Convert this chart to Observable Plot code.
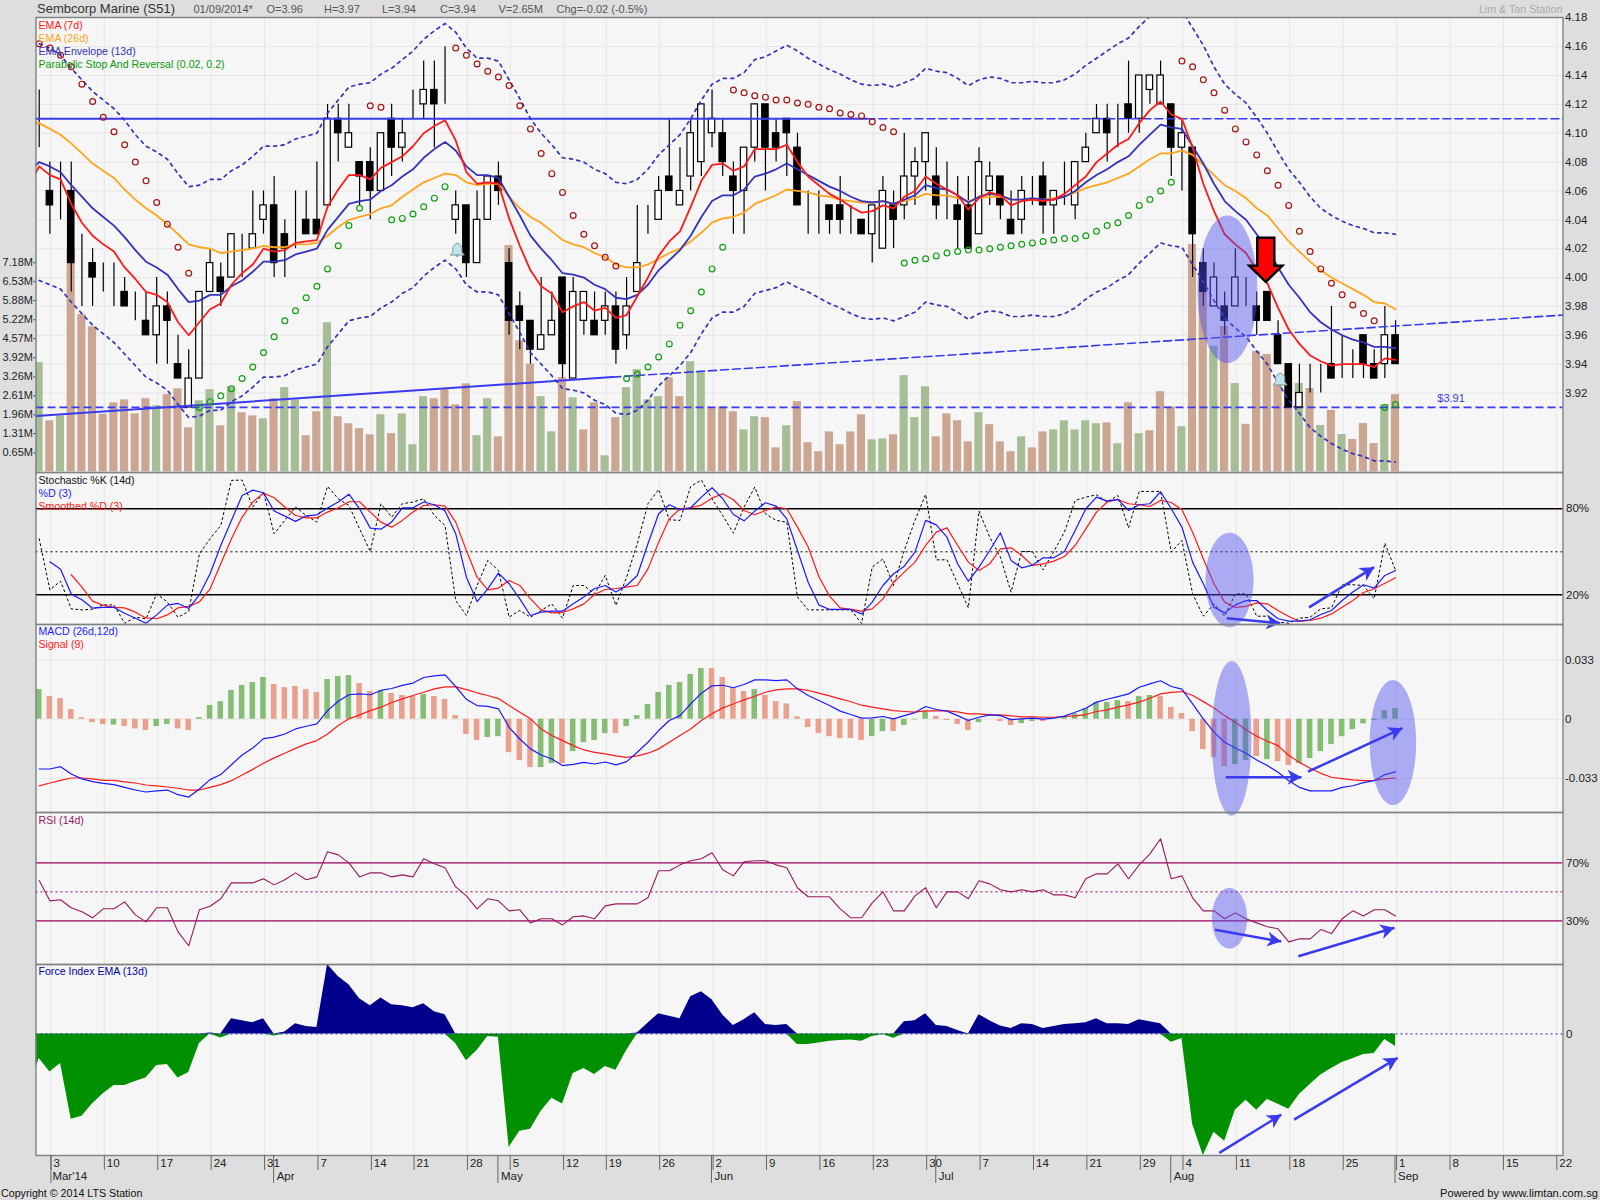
<!DOCTYPE html>
<html><head><meta charset="utf-8">
<script src="https://cdn.jsdelivr.net/npm/d3@7"></script>
<script src="https://cdn.jsdelivr.net/npm/@observablehq/plot@0.6"></script>
<style>
html,body{margin:0;padding:0;background:#dedede;overflow:hidden}
#chart{position:relative;width:1600px;height:1200px;font-family:"Liberation Sans",Arial,sans-serif;overflow:hidden}
.h{position:absolute;white-space:nowrap;color:#555;font-size:11px;top:3px}
.bg{position:absolute;background:#f6f6f6;left:35.5px;width:1527px}
svg{position:absolute;left:0}
</style></head><body><div id="chart"></div>
<script>
const opens=[4.11,4.06,4.06,4.06,4.00,4.01,4.00,4.00,3.99,3.97,3.97,3.96,3.98,3.94,3.91,3.93,3.99,4.00,4.00,4.03,4.02,4.04,4.05,4.03,4.04,4.04,4.04,4.05,4.11,4.09,4.08,4.08,4.06,4.11,4.09,4.11,4.12,4.13,4.12,4.04,4.05,4.01,4.04,4.07,4.01,3.98,3.97,3.95,3.96,4.00,3.93,3.97,3.97,3.97,3.98,3.96,3.99,4.03,4.04,4.07,4.05,4.07,4.08,4.10,4.10,4.07,4.06,4.09,4.12,4.10,4.11,4.09,4.04,4.04,4.05,4.05,4.04,4.04,4.03,4.02,4.05,4.05,4.07,4.08,4.07,4.05,4.05,4.05,4.03,4.06,4.07,4.04,4.04,4.06,4.07,4.05,4.07,4.05,4.08,4.10,4.11,4.11,4.12,4.11,4.13,4.12,4.12,4.09,4.09,4.01,3.98,3.98,3.98,4.00,3.98,3.99,3.96,3.94,3.91,3.92,3.93,3.94,3.94,3.94,3.96,3.94,3.94,3.96];
const highs=[4.13,4.08,4.08,4.08,4.03,4.02,4.01,4.01,4.00,3.99,3.99,4.00,3.99,3.96,3.95,3.99,4.02,4.01,4.03,4.03,4.06,4.06,4.07,4.04,4.06,4.06,4.08,4.12,4.12,4.12,4.08,4.09,4.10,4.12,4.11,4.13,4.15,4.15,4.16,4.06,4.05,4.06,4.07,4.08,4.02,3.99,3.97,4.00,3.99,4.00,4.00,3.99,3.99,3.99,3.99,4.00,4.05,4.05,4.07,4.11,4.09,4.11,4.12,4.13,4.11,4.08,4.09,4.12,4.12,4.11,4.11,4.10,4.06,4.06,4.05,4.07,4.05,4.04,4.05,4.07,4.06,4.10,4.09,4.10,4.09,4.08,4.07,4.07,4.09,4.08,4.07,4.06,4.07,4.07,4.08,4.06,4.08,4.08,4.10,4.12,4.12,4.12,4.15,4.14,4.14,4.15,4.12,4.11,4.09,4.02,4.01,3.99,4.02,4.00,3.99,3.99,3.97,3.94,3.94,3.94,3.94,3.98,3.96,3.95,3.96,3.95,3.98,3.97];
const lows=[4.09,4.03,4.04,3.99,3.98,3.98,3.99,3.98,3.98,3.97,3.96,3.94,3.94,3.93,3.91,3.93,3.99,3.98,4.00,4.00,4.02,4.03,4.00,4.00,4.02,4.03,4.03,4.05,4.08,4.09,4.05,4.04,4.06,4.07,4.08,4.11,4.11,4.09,4.12,4.03,4.00,4.01,4.04,4.05,3.96,3.95,3.94,3.95,3.96,3.93,3.93,3.96,3.96,3.96,3.94,3.95,3.99,4.03,4.04,4.06,4.05,4.06,4.07,4.09,4.07,4.03,4.03,4.08,4.06,4.08,4.07,4.05,4.03,4.03,4.03,4.03,4.03,4.03,4.01,4.02,4.02,4.04,4.05,4.06,4.04,4.04,4.02,4.02,4.03,4.05,4.04,4.03,4.03,4.05,4.03,4.03,4.05,4.04,4.08,4.10,4.08,4.09,4.10,4.10,4.12,4.12,4.07,4.06,4.00,3.98,3.98,3.96,3.98,3.98,3.96,3.97,3.94,3.91,3.91,3.92,3.92,3.93,3.93,3.93,3.93,3.93,3.93,3.94];
const closes=[4.11,4.05,4.06,4.01,4.00,4.00,4.00,4.00,3.98,3.97,3.96,3.98,3.97,3.93,3.93,3.99,4.01,3.99,4.03,4.03,4.03,4.05,4.01,4.02,4.04,4.03,4.03,4.11,4.10,4.10,4.07,4.06,4.10,4.09,4.10,4.11,4.13,4.12,4.12,4.05,4.01,4.04,4.07,4.06,3.97,3.97,3.95,3.96,3.97,3.94,3.99,3.99,3.96,3.98,3.95,3.98,4.01,4.03,4.06,4.06,4.06,4.10,4.12,4.11,4.08,4.06,4.09,4.12,4.09,4.09,4.10,4.05,4.04,4.04,4.04,4.04,4.04,4.03,4.05,4.06,4.04,4.07,4.08,4.10,4.05,4.05,4.04,4.02,4.08,4.07,4.05,4.03,4.06,4.06,4.05,4.06,4.07,4.08,4.09,4.11,4.10,4.11,4.11,4.14,4.14,4.14,4.09,4.10,4.03,3.99,4.00,3.97,4.00,4.00,3.97,3.97,3.94,3.91,3.92,3.92,3.93,3.93,3.94,3.94,3.94,3.93,3.96,3.94];
const volumes=[3.75,1.75,1.92,7.65,5.40,4.98,1.98,2.37,2.47,1.99,2.51,2.27,2.65,2.85,1.51,2.44,2.82,1.58,2.92,2.03,1.92,1.82,2.51,2.89,2.47,1.24,2.06,5.12,1.89,1.65,1.48,1.27,1.96,1.31,1.99,0.93,2.58,2.51,2.82,2.30,3.02,1.24,2.51,1.20,7.77,4.50,3.70,2.58,1.37,3.23,2.54,1.44,2.37,0.55,1.86,2.89,3.51,2.47,2.58,3.23,2.58,3.78,3.40,2.17,2.23,2.06,1.44,1.89,1.86,0.82,1.58,2.41,1.00,0.69,1.37,0.93,1.37,1.96,1.10,1.13,1.27,3.30,1.86,2.92,1.20,1.99,1.75,1.03,2.03,1.62,1.03,0.69,1.20,0.82,1.37,1.44,1.75,1.44,1.75,1.65,1.68,0.96,2.37,1.31,1.41,2.75,2.23,1.55,7.81,6.46,4.31,4.99,3.03,1.63,4.13,4.03,3.03,3.21,3.03,2.86,1.59,2.11,1.28,1.11,1.66,0.97,2.31,2.65];
const volumeFlags="GBGBBBBBBB"+"BGBBBGGBGB"+"BGBGGBBGBB"+"BBGBGGGBBB"+"BGGBBBBGGB"+"GBBGBGGGGB"+"BGGBBBGGBB"+"GBBBBBBBGG"+"BGGGBBBBGB"+"BBGBBGGGGG"+"BGBGBBBGBB"+"GBGBBBBBGB"+"GBGBBBGB";
const emaFast=[4.077,4.071,4.068,4.051,4.038,4.029,4.023,4.018,4.007,3.999,3.990,3.988,3.983,3.969,3.960,3.969,3.978,3.982,3.995,4.003,4.009,4.020,4.018,4.019,4.024,4.025,4.026,4.049,4.061,4.071,4.071,4.068,4.076,4.080,4.084,4.091,4.100,4.105,4.109,4.095,4.073,4.065,4.066,4.065,4.041,4.022,4.005,3.994,3.989,3.976,3.980,3.983,3.977,3.979,3.972,3.974,3.987,4.000,4.015,4.025,4.032,4.049,4.067,4.078,4.079,4.074,4.077,4.089,4.089,4.089,4.092,4.080,4.070,4.064,4.058,4.054,4.049,4.045,4.046,4.050,4.048,4.056,4.060,4.070,4.065,4.061,4.057,4.047,4.055,4.059,4.057,4.050,4.053,4.054,4.053,4.054,4.058,4.064,4.070,4.080,4.086,4.092,4.096,4.107,4.116,4.122,4.113,4.110,4.090,4.065,4.046,4.030,4.023,4.017,4.005,3.996,3.979,3.964,3.954,3.946,3.942,3.939,3.940,3.940,3.940,3.938,3.944,3.943];
const emaSlow=[4.107,4.103,4.099,4.093,4.086,4.079,4.074,4.069,4.061,4.054,4.048,4.043,4.037,4.030,4.023,4.021,4.020,4.017,4.018,4.019,4.020,4.022,4.021,4.021,4.023,4.023,4.024,4.029,4.035,4.040,4.042,4.044,4.048,4.050,4.056,4.061,4.066,4.069,4.072,4.071,4.066,4.064,4.065,4.065,4.056,4.048,4.042,4.038,4.032,4.026,4.023,4.021,4.017,4.014,4.009,4.007,4.007,4.009,4.013,4.017,4.020,4.025,4.031,4.038,4.041,4.042,4.045,4.051,4.054,4.057,4.061,4.060,4.059,4.057,4.056,4.054,4.053,4.052,4.052,4.053,4.051,4.053,4.055,4.058,4.057,4.057,4.055,4.053,4.055,4.056,4.056,4.054,4.054,4.054,4.054,4.055,4.056,4.059,4.062,4.064,4.066,4.069,4.072,4.077,4.082,4.086,4.086,4.088,4.085,4.078,4.071,4.064,4.060,4.055,4.048,4.043,4.034,4.025,4.018,4.011,4.005,4.000,3.996,3.992,3.988,3.983,3.982,3.978];
const envMid=[4.080,4.077,4.073,4.064,4.056,4.048,4.042,4.036,4.028,4.019,4.011,4.007,4.002,3.992,3.983,3.984,3.988,3.988,3.994,3.998,4.004,4.011,4.011,4.012,4.016,4.018,4.020,4.033,4.042,4.051,4.053,4.054,4.060,4.064,4.070,4.075,4.083,4.089,4.094,4.088,4.077,4.071,4.071,4.069,4.056,4.043,4.029,4.020,4.012,4.003,4.002,4.000,3.995,3.992,3.986,3.985,3.988,3.995,4.005,4.012,4.019,4.029,4.042,4.053,4.057,4.057,4.061,4.070,4.072,4.075,4.079,4.075,4.071,4.067,4.063,4.060,4.056,4.053,4.052,4.053,4.051,4.054,4.057,4.064,4.062,4.061,4.057,4.052,4.056,4.058,4.057,4.054,4.054,4.055,4.054,4.054,4.056,4.060,4.066,4.071,4.075,4.080,4.084,4.092,4.099,4.106,4.104,4.103,4.091,4.079,4.065,4.053,4.046,4.040,4.030,4.020,4.007,3.995,3.986,3.976,3.969,3.964,3.960,3.957,3.955,3.952,3.952,3.951];
const envUpper=[4.162,4.159,4.154,4.145,4.137,4.129,4.123,4.117,4.109,4.099,4.091,4.087,4.082,4.072,4.063,4.064,4.068,4.068,4.074,4.078,4.084,4.091,4.091,4.092,4.096,4.098,4.100,4.114,4.123,4.132,4.134,4.135,4.141,4.145,4.151,4.157,4.165,4.171,4.176,4.170,4.159,4.152,4.152,4.150,4.137,4.124,4.110,4.100,4.092,4.083,4.082,4.080,4.075,4.072,4.066,4.065,4.068,4.075,4.085,4.092,4.099,4.110,4.123,4.134,4.138,4.138,4.142,4.151,4.153,4.157,4.161,4.157,4.152,4.148,4.144,4.141,4.137,4.134,4.133,4.134,4.132,4.135,4.138,4.145,4.143,4.142,4.138,4.133,4.137,4.139,4.138,4.135,4.135,4.136,4.135,4.135,4.137,4.141,4.147,4.152,4.157,4.162,4.166,4.174,4.181,4.188,4.186,4.185,4.173,4.161,4.146,4.134,4.127,4.121,4.111,4.100,4.087,4.075,4.066,4.056,4.048,4.043,4.039,4.036,4.034,4.031,4.031,4.030];
const envLower=[3.998,3.995,3.992,3.983,3.975,3.967,3.961,3.955,3.947,3.939,3.931,3.927,3.922,3.912,3.903,3.904,3.908,3.908,3.914,3.918,3.924,3.931,3.931,3.932,3.936,3.938,3.940,3.952,3.961,3.970,3.972,3.973,3.979,3.983,3.989,3.993,4.001,4.007,4.012,4.006,3.995,3.990,3.990,3.988,3.975,3.962,3.948,3.940,3.932,3.923,3.922,3.920,3.915,3.912,3.906,3.905,3.908,3.915,3.925,3.932,3.939,3.948,3.961,3.972,3.976,3.976,3.980,3.989,3.991,3.993,3.997,3.993,3.990,3.986,3.982,3.979,3.975,3.972,3.971,3.972,3.970,3.973,3.976,3.983,3.981,3.980,3.976,3.971,3.975,3.977,3.976,3.973,3.973,3.974,3.973,3.973,3.975,3.979,3.985,3.990,3.993,3.998,4.002,4.010,4.017,4.024,4.022,4.021,4.009,3.997,3.984,3.972,3.965,3.959,3.949,3.940,3.927,3.915,3.906,3.896,3.890,3.885,3.881,3.878,3.876,3.873,3.873,3.872];
const sar=[4.162,4.159,4.154,4.146,4.134,4.122,4.111,4.101,4.092,4.080,4.067,4.052,4.037,4.021,4.003,3.910,3.914,3.918,3.923,3.930,3.938,3.948,3.959,3.970,3.977,3.986,3.994,4.006,4.022,4.036,4.048,4.119,4.118,4.040,4.041,4.044,4.049,4.055,4.063,4.159,4.154,4.148,4.143,4.139,4.133,4.119,4.103,4.086,4.072,4.059,4.043,4.030,4.022,4.014,4.008,3.930,3.933,3.938,3.945,3.954,3.967,3.977,3.990,4.006,4.021,4.130,4.128,4.126,4.125,4.123,4.123,4.121,4.120,4.118,4.117,4.114,4.113,4.112,4.108,4.104,4.101,4.010,4.012,4.013,4.015,4.017,4.018,4.019,4.019,4.020,4.021,4.022,4.023,4.024,4.025,4.026,4.027,4.027,4.029,4.032,4.036,4.038,4.043,4.050,4.054,4.060,4.066,4.150,4.146,4.137,4.128,4.116,4.103,4.094,4.085,4.074,4.064,4.050,4.032,4.018,4.006,3.996,3.988,3.981,3.975,3.970,3.910,3.912];
const stochK=[59.1,23.5,29.5,10.2,9.5,10.0,13.0,13.0,0.2,4.4,3.3,20.7,14.9,4.4,8.4,48.6,59.1,68.4,99.8,100,81.2,91.6,62.6,71.9,81.2,75.3,70.7,95.6,87.0,82.3,66.0,50.2,83.5,74.2,83.5,84.7,87.0,75.3,68.4,16.0,5.6,26.5,44.0,37.0,4.4,9.1,4.4,9.1,13.7,3.7,26.5,26.5,20.7,33.5,12.6,32.3,55.6,83.5,93.5,72.3,71.9,95.6,100,87.0,75.3,63.0,81.2,95.1,76.5,71.9,70.7,18.4,9.5,9.5,9.5,9.5,9.5,0,39.3,45.1,26.5,50.9,71.9,90.0,44.4,44.4,27.7,10.9,78.4,60.2,46.3,21.9,50.2,50.2,37.4,50.2,63.7,85.8,88.1,89.8,84.7,89.3,66.7,92.1,92.1,92.1,49.8,57.9,20.7,5.1,13.7,5.1,20.7,20.7,5.1,5.1,0.9,0.2,3.7,4.4,10.2,10.9,27.0,27.0,26.5,17.2,56.0,37.0];
const stochD=[null,43.0,37.9,20.5,16.5,10.7,11.2,11.2,7.2,3.7,0.2,6.0,12.8,14.0,10.5,20.0,34.7,54.4,71.9,89.3,93.0,91.2,78.4,74.9,71.2,75.1,75.8,80.5,84.7,90.2,80.0,66.5,65.8,70.7,80.7,80.7,84.7,82.8,78.4,62.6,32.3,15.3,24.2,35.1,27.7,17.2,5.6,7.9,8.6,8.6,13.7,18.4,24.4,26.5,21.9,26.5,33.5,55.6,76.5,82.8,79.3,80.7,88.1,94.7,87.0,76.0,71.6,78.4,84.2,81.9,73.0,50.9,28.8,13.0,9.8,9.8,9.8,6.7,14.9,26.5,34.7,40.0,49.8,71.9,68.8,60.2,41.6,29.5,39.3,50.9,63.3,44.0,38.8,40.7,45.8,45.8,50.2,64.9,80.0,88.1,85.3,86.5,78.8,82.8,83.5,91.9,80.0,67.2,42.8,27.7,11.4,7.4,13.0,16.0,16.0,9.1,3.3,1.6,1.6,2.6,6.3,9.1,16.0,21.9,27.0,24.7,33.5,37.0];
const stochSlow=[null,null,null,34.0,25.3,15.6,12.6,11.2,10.9,7.9,3.9,3.3,6.0,10.9,11.9,15.1,24.2,41.6,59.1,74.2,84.7,90.9,87.7,81.2,75.3,73.7,73.7,77.7,80.7,84.9,84.9,77.7,70.7,67.2,71.9,77.7,82.3,82.8,81.9,70.7,50.9,32.3,23.5,24.7,30.0,26.5,17.2,9.5,7.4,7.7,10.2,13.7,20.2,23.7,24.4,25.3,26.5,38.1,56.7,73.0,80.0,80.7,82.6,87.4,90.5,86.3,78.8,75.8,78.8,81.2,80.0,67.2,53.3,32.8,19.1,10.9,9.8,8.6,10.2,17.2,28.8,35.8,42.8,54.4,63.7,66.7,54.4,42.8,37.0,41.6,52.1,52.8,47.4,40.5,41.6,43.5,46.7,54.4,66.0,77.7,84.7,86.5,83.5,82.8,81.6,85.8,84.4,79.3,63.7,45.1,27.7,14.9,11.2,11.9,14.4,13.7,9.1,4.9,1.6,2.1,3.7,6.7,11.4,16.0,21.6,24.2,28.1,31.9];
const macd=[-27.7,-27.7,-26.4,-30.5,-33.2,-34.7,-35.7,-36.4,-37.9,-39.4,-40.5,-39.9,-39.4,-42.0,-43.3,-38.8,-33.6,-30.8,-25.3,-19.9,-16.0,-10.8,-10.0,-8.2,-5.4,-3.9,-2.6,4.8,10.0,13.6,14.1,13.6,16.0,17.1,18.8,20.1,23.2,24.1,24.7,18.2,11.1,7.6,7.1,5.8,-4.5,-11.0,-16.5,-19.9,-22.1,-25.8,-25.1,-24.0,-24.9,-23.8,-25.4,-23.6,-18.4,-12.8,-6.3,-0.7,2.0,8.5,14.5,18.6,18.9,17.5,19.3,21.9,21.9,21.5,21.9,16.9,13.2,10.4,7.6,4.5,2.6,0.6,0.7,1.5,0.2,2.0,3.7,7.1,5.4,4.5,2.0,-0.7,1.1,2.4,2.0,-0.2,0.2,0.6,0,0.6,1.7,3.9,6.1,9.5,11.1,12.6,14.1,17.8,19.7,21.4,18.2,16.7,8.5,0.2,-7.2,-12.8,-16.0,-18.9,-22.7,-25.8,-29.5,-34.2,-37.9,-39.9,-39.9,-39.9,-37.9,-37.0,-35.3,-34.2,-30.8,-29.3];
const signal=[-37.1,-35.5,-34.0,-32.7,-32.7,-33.2,-34.0,-34.0,-34.9,-35.5,-36.6,-37.1,-37.7,-38.4,-39.4,-39.4,-37.9,-36.4,-34.2,-31.0,-27.9,-24.5,-21.5,-18.9,-16.2,-13.7,-11.9,-8.2,-3.5,0.2,2.4,4.8,6.7,9.3,11.3,13.2,15.0,16.9,18.0,18.0,16.5,14.7,13.2,11.5,7.6,3.9,0.2,-5.4,-9.1,-11.9,-14.7,-17.1,-18.4,-19.3,-20.4,-21.2,-20.4,-18.9,-16.5,-12.8,-9.1,-5.4,-0.7,3.0,6.3,8.5,10.8,12.8,15.0,16.3,16.9,16.9,16.0,14.5,13.0,11.3,9.7,7.8,6.7,5.8,4.8,4.3,3.9,4.6,4.6,4.6,4.1,3.0,3.0,2.4,2.4,1.9,1.3,1.3,1.1,1.1,1.5,1.9,2.6,4.3,5.2,6.7,8.0,9.5,11.7,14.1,14.9,15.4,13.2,9.8,6.3,2.0,-1.7,-5.8,-9.5,-12.3,-14.7,-20.2,-24.0,-27.3,-30.1,-32.3,-33.1,-33.8,-34.2,-34.0,-33.2,-32.7];
const histogram=[16.5,12.6,11.5,5.4,0.9,-1.9,-3.0,-3.2,-4.1,-5.4,-6.3,-4.1,-3.0,-5.4,-6.3,0.9,7.6,9.8,16.0,18.8,20.4,23.2,19.3,17.6,18.2,16.5,14.9,22.1,23.8,24.3,19.9,15.4,16.0,14.3,13.2,12.6,13.7,12.6,11.0,2.0,-8.5,-11.9,-10.2,-9.7,-18.6,-23.0,-26.9,-26.9,-24.7,-24.7,-18.0,-13.0,-11.9,-8.0,-8.0,-4.1,2.0,8.2,14.9,18.8,20.4,24.9,28.2,28.2,23.2,17.6,15.4,16.5,13.2,9.8,8.5,1.3,-4.6,-8.0,-9.7,-10.8,-10.8,-11.9,-9.7,-6.9,-6.9,-3.5,-0.4,4.5,1.5,-0.7,-3.0,-6.3,-1.9,0,-1.3,-3.5,-2.4,-1.3,-1.3,0,1.5,3.0,5.9,9.3,9.3,10.4,9.8,12.6,13.2,12.6,6.5,3.2,-6.9,-16.9,-21.4,-26.4,-25.3,-23.0,-20.8,-22.5,-23.6,-25.8,-24.7,-21.9,-18.0,-14.1,-9.7,-5.8,-2.6,-0.7,4.8,5.9];
const histFlags="GRRRRRRGRR"+"RGGRRGGGGG"+"GGRRRRRGGG"+"RRGRRRGRRR"+"RRGGRRRGGR"+"GGGGRGGGGG"+"GGGRRRRGRR"+"RRRRRRRRGG"+"RGGGRRRRGG"+"RRGGRRGGGG"+"GGRGGRRRRR"+"RRGGRGRRGG"+"GGGGGGGG";
const rsi=[57.8,43.8,44.5,39.0,36.2,32.1,38.3,38.3,43.1,34.1,29.3,39.0,39.0,22.4,12.8,37.6,40.1,45.2,56.2,56.2,56.2,59.0,54.8,58.3,63.1,58.3,60.3,77.6,75.5,70.0,60.3,63.1,63.1,60.3,61.7,60.3,72.8,69.3,66.6,53.4,47.2,38.3,45.2,43.8,36.9,37.6,28.6,31.4,31.4,27.2,32.8,33.4,31.4,40.3,41.7,41.7,41.7,45.9,64.5,64.5,68.6,71.4,72.8,76.9,65.2,61.0,70.7,71.4,71.4,68.6,66.6,52.8,46.6,46.6,46.6,38.3,32.1,32.1,42.4,50.0,36.9,36.9,47.2,52.8,39.0,50.0,50.0,45.2,57.6,55.5,51.4,50.0,51.4,50.0,51.4,47.9,47.9,45.9,59.0,62.4,62.4,69.3,59.0,68.6,76.2,86.6,59.0,61.0,45.9,36.9,36.9,31.4,35.5,31.4,28.6,25.9,24.5,15.5,17.6,17.6,24.0,21.2,31.4,36.9,33.4,37.6,37.6,33.4];
const force=[-0.74,-1.15,-0.89,-2.57,-2.48,-2.10,-1.80,-1.55,-1.55,-1.43,-1.33,-0.95,-0.92,-1.33,-1.16,-0.29,0.03,-0.12,0.46,0.40,0.34,0.46,-0.06,0.06,0.31,0.22,0.19,2.09,1.73,1.48,1.06,0.85,1.08,0.88,0.85,0.79,0.91,0.67,0.58,-0.29,-0.81,-0.50,-0.08,-0.10,-3.42,-2.93,-2.87,-2.33,-1.94,-2.11,-1.19,-1.04,-1.22,-0.98,-1.09,-0.50,0.03,0.32,0.61,0.53,0.46,1.12,1.27,1.03,0.57,0.25,0.43,0.64,0.28,0.25,0.28,-0.32,-0.32,-0.27,-0.22,-0.20,-0.18,-0.22,-0.08,-0.02,-0.13,0.37,0.40,0.61,0.25,0.22,0.10,-0.02,0.58,0.40,0.24,0.16,0.31,0.28,0.16,0.22,0.28,0.31,0.34,0.46,0.31,0.31,0.28,0.43,0.37,0.31,-0.25,-0.14,-2.72,-3.66,-2.96,-3.23,-2.30,-2.00,-2.30,-1.97,-2.12,-2.27,-1.82,-1.52,-1.24,-1.04,-0.86,-0.75,-0.62,-0.59,-0.17,-0.38];
// values where each line enters the frame at the left edge
const leadIn={emaFast:4.073,envMid:4.078,force:-1.0};

const dayTicks=[[1,"3"],[6,"10"],[11,"17"],[16,"24"],[21,"31"],[26,"7"],[31,"14"],[35,"21"],[40,"28"],[44,"5"],[49,"12"],[53,"19"],[58,"26"],[63,"2"],[68,"9"],[73,"16"],[78,"23"],[83,"30"],[88,"7"],[93,"14"],[98,"21"],[103,"29"],[107,"4"],[112,"11"],[117,"18"],[122,"25"],[127,"1"],[132,"8"],[137,"15"],[142,"22"]];
const monthTicks=[[1,"Mar'14"],[22,"Apr"],[43,"May"],[63,"Jun"],[84,"Jul"],[106,"Aug"],[127,"Sep"]];
const priceTicks=[4.18,4.16,4.14,4.12,4.10,4.08,4.06,4.04,4.02,4.00,3.98,3.96,3.94,3.92];
const volumeTicks=[0.65,1.31,1.96,2.61,3.26,3.92,4.57,5.22,5.88,6.53,7.18];

const FONT='"Liberation Sans",Arial,sans-serif';
const N=opens.length;
[highs,lows,closes,volumes,emaFast,emaSlow,envMid,envUpper,envLower,sar,stochK,stochD,stochSlow,macd,signal,histogram,rsi,force].forEach((a,i)=>{if(a.length!==N)throw new Error("length "+i+" = "+a.length)});
if(volumeFlags.length!==N||histFlags.length!==N)throw new Error("flags");
const idx=d3.range(N);
const xLeft=-0.3, xRight=142.68, xDom=[xLeft,xRight], PXX=10.68;
const root=document.getElementById("chart");
const BLUE="#3a3af0", TINT="#5050f0";

function pane(top,h,yDom,marks){
  const svg=Plot.plot({width:1600,height:h,marginLeft:35.5,marginRight:37.5,marginTop:0,marginBottom:0,
    x:{domain:xDom,axis:null},y:{domain:yDom,axis:null},
    style:{background:"transparent",overflow:"visible",fontFamily:FONT},marks});
  svg.style.top=top+"px"; root.appendChild(svg);
}
function bg(top,h){const d=document.createElement("div");d.className="bg";d.style.top=top+"px";d.style.height=h+"px";root.appendChild(d);}
const vgrid=()=>Plot.ruleX(dayTicks,{x:d=>d[0]+0.1,stroke:"#e6e6e6",strokeWidth:1});
const frame=()=>Plot.frame({stroke:"#7c8484",strokeWidth:1.4});
const seq=(arr,o)=>Plot.line(idx,{x:k=>k,y:k=>arr[k],...o});
const seg=(pts,o)=>Plot.line(pts,{x:d=>d[0],y:d=>d[1],...o});
const label=(t,dy,fill)=>Plot.text([t],{frameAnchor:"top-left",dx:2.5,dy,fill,fontSize:10.6,text:d=>d});
function ellipse(cx,cy,rx,ry){
  const pts=d3.range(61).map(i=>{const a=Math.PI*i/60;return {x:cx-rx*Math.cos(a),y1:cy-ry*Math.sin(a),y2:cy+ry*Math.sin(a)};});
  return Plot.areaY(pts,{x:"x",y1:"y1",y2:"y2",fill:TINT,fillOpacity:0.45});
}
const headSym={draw(c){c.moveTo(0,0);c.lineTo(-7.5,14);c.lineTo(0,10);c.lineTo(7.5,14);c.closePath();}};
function arrow(x1,y1,x2,y2,pxY){
  const rot=Math.atan2((x2-x1)*PXX,(y2-y1)*pxY)*180/Math.PI;
  return [Plot.link([{x1,y1,x2,y2}],{x1:"x1",y1:"y1",x2:"x2",y2:"y2",stroke:BLUE,strokeWidth:2.5}),
          Plot.dot([{x:x2,y:y2}],{x:"x",y:"y",symbol:headSym,rotate:rot,fill:BLUE,stroke:"none"})];
}
const bigArrow={draw(c){c.moveTo(0,0);c.lineTo(16.5,-16);c.lineTo(8.5,-16);c.lineTo(8.5,-44);c.lineTo(-8.5,-44);c.lineTo(-8.5,-16);c.lineTo(-16.5,-16);c.closePath();}};
const bell={draw(c){c.moveTo(-7,5);c.lineTo(-4.5,2);c.lineTo(-4.5,-3);c.lineTo(-2,-6);c.lineTo(0,-7);c.lineTo(2,-6);c.lineTo(4.5,-3);c.lineTo(4.5,2);c.lineTo(7,5);c.closePath();c.moveTo(-1.5,5);c.lineTo(1.5,5);c.lineTo(0,7);c.closePath();}};

// header and footer text
const hdr=[["Sembcorp Marine (S51)",37,"font-size:13px;color:#333;top:1px"],["01/09/2014*",193.5,""],["O=3.96",266.5,""],["H=3.97",324,""],["L=3.94",382,""],["C=3.94",440,""],["V=2.65M",498.5,""],["Chg=-0.02 (-0.5%)",556.5,""]];
hdr.forEach(([t,x,s])=>{const d=document.createElement("div");d.className="h";d.textContent=t;d.style.cssText="left:"+x+"px;"+s;root.appendChild(d);});
{const d=document.createElement("div");d.className="h";d.textContent="Lim & Tan Station";d.style.cssText="right:37.5px;color:#aaa;font-size:10.7px";root.appendChild(d);}
[["Copyright © 2014 LTS Station","left:1px;font-size:10.7px"],["Powered by www.limtan.com.sg","right:2px;font-size:11.2px"]].forEach(([t,s])=>{const d=document.createElement("div");d.className="h";d.textContent=t;d.style.cssText=s+";top:1187px;color:#111";root.appendChild(d);});

// panes layout
const mainTop=17, mainH=455, stTop=472, stH=152, mdTop=624, mdH=188, rsTop=812, rsH=152, fiTop=964, fiH=191;
[[mainTop,mainH],[stTop,stH],[mdTop,mdH],[rsTop,rsH],[fiTop,fiH]].forEach(([t,h])=>bg(t,h));

// main: grid, then volume, then price
const priceDom=[3.8649,4.1802];
pane(mainTop,mainH,priceDom,[vgrid(),Plot.ruleY(priceTicks,{stroke:"#e6e6e6"})]);
pane(mainTop,mainH,[-0.024,15.6],[
  Plot.rect(idx,{x1:k=>k-0.39,x2:k=>k+0.37,y1:0,y2:k=>volumes[k],fill:k=>volumeFlags[k]==="G"?"#a6bd96":"#cba692",clip:"frame"}),
  Plot.axisY(volumeTicks,{anchor:"left",tickSize:2,tickPadding:1,fontSize:11,tickFormat:d=>d.toFixed(2)+"M",label:null,stroke:"#333",fill:"#222"})
]);
pane(mainTop,mainH,priceDom,[
  Plot.ruleY([3.91],{stroke:BLUE,strokeWidth:1.6,strokeDasharray:"8 4"}),
  Plot.ruleX(idx,{x:k=>k,y1:k=>lows[k],y2:k=>highs[k],stroke:"#000",strokeWidth:1.2}),
  Plot.rect(idx,{x1:k=>k-0.3,x2:k=>k+0.3,y1:k=>opens[k],y2:k=>closes[k],fill:k=>closes[k]>opens[k]?"#fff":"#000",stroke:"#000",strokeWidth:1.2}),
  seg([[xLeft,4.11],[77.5,4.11]],{stroke:BLUE,strokeWidth:2}),
  seg([[77.5,4.11],[xRight,4.11]],{stroke:BLUE,strokeWidth:1.6,strokeDasharray:"8 4"}),
  seg([[xLeft,3.904],[53.7,3.931]],{stroke:BLUE,strokeWidth:2}),
  seg([[53.7,3.931],[xRight,3.974]],{stroke:BLUE,strokeWidth:1.6,strokeDasharray:"8 4"}),
  seq(envUpper,{stroke:"#3333bb",strokeWidth:1.7,strokeDasharray:"3 4.5",clip:"frame"}),
  seq(envLower,{stroke:"#3333bb",strokeWidth:1.7,strokeDasharray:"3 4.5"}),
  seg([[xLeft,emaSlow[0]],[0,emaSlow[0]]],{stroke:"#ffa41c",strokeWidth:1.8}),
  seq(emaSlow,{stroke:"#ffa41c",strokeWidth:1.8}),
  seg([[xLeft,leadIn.envMid],[0,envMid[0]]],{stroke:"#3333bb",strokeWidth:1.8}),
  seq(envMid,{stroke:"#3333bb",strokeWidth:1.8}),
  seg([[xLeft,leadIn.emaFast],[0,emaFast[0]]],{stroke:"#ff1a1a",strokeWidth:1.8}),
  seq(emaFast,{stroke:"#ff1a1a",strokeWidth:1.8}),
  Plot.dot(idx,{x:k=>k,y:k=>sar[k],r:2.9,stroke:k=>sar[k]>closes[k]?"#a31515":"#12a012",strokeWidth:1.2,fill:"none"}),
  ellipse(111.3,3.9915,2.8,0.0512),
  Plot.dot([[39.15,4.019],[116.2,3.929]],{x:d=>d[0],y:d=>d[1],symbol:bell,fill:"#bde6ec",stroke:"#8a9a9a",strokeWidth:1}),
  Plot.dot([[114.85,3.997]],{x:d=>d[0],y:d=>d[1],symbol:bigArrow,fill:"#ff0000",stroke:"#000",strokeWidth:2.5}),
  Plot.text(["$3.91"],{x:132.2,y:3.916,text:d=>d,fill:BLUE,fontSize:11}),
  Plot.axisY(priceTicks,{anchor:"right",tickSize:0,tickPadding:2,fontSize:11.5,tickFormat:d=>d.toFixed(2),label:null,fill:"#222"}),
  label("EMA (7d)",3.5,"#ff1a1a"),label("EMA (26d)",16.5,"#ffa41c"),label("EMA Envelope (13d)",29.5,"#3333bb"),label("Parabolic Stop And Reversal (0.02, 0.2)",42.5,"#0a9a0a"),
  frame()
]);

// stochastic
const stDom=[-0.7,105.3], PYS=1.433;
pane(stTop,stH,stDom,[vgrid(),
  Plot.ruleY([80,20],{stroke:"#000",strokeWidth:1.4}),
  Plot.ruleY([50],{stroke:"#000",strokeDasharray:"2 3"}),
  seq(stochK,{stroke:"#000",strokeWidth:1,strokeDasharray:"2 3"}),
  seq(stochSlow,{stroke:"#ff1a1a",strokeWidth:1.2}),
  seq(stochD,{stroke:"#1a1aff",strokeWidth:1.2}),
  ellipse(111.5,30,2.25,33),
  ...arrow(111.2,3.7,116.2,0.2,PYS),...arrow(118.9,11.2,125,39.3,PYS),
  Plot.axisY([80,20],{anchor:"right",tickSize:0,tickPadding:3,fontSize:11.5,tickFormat:d=>d+"%",label:null,fill:"#222"}),
  label("Stochastic %K (14d)",4,"#111"),label("%D (3)",17,"#1a1aff"),label("Smoothed %D (3)",30,"#ff1a1a"),
  frame()]);

// MACD
const mdDom=[-51.9,52.7], PYM=59.3/33;
pane(mdTop,mdH,mdDom,[vgrid(),
  Plot.ruleY([33,0,-33],{stroke:"#e6e6e6"}),
  Plot.rect(idx,{x1:k=>k-0.26,x2:k=>k+0.26,y1:0,y2:k=>histogram[k],fill:k=>histFlags[k]==="G"?"#85bd75":"#e9a08c"}),
  seq(signal,{stroke:"#ff1a1a",strokeWidth:1.2}),
  seq(macd,{stroke:"#1a1aff",strokeWidth:1.2}),
  ellipse(111.7,-10.95,1.85,43.05),ellipse(126.8,-13.3,2.17,34.8),
  ...arrow(111.1,-32.3,118.2,-32.3,PYM),...arrow(118.8,-29.2,127.65,-5,PYM),
  Plot.axisY([33,0,-33],{anchor:"right",tickSize:0,tickPadding:2,fontSize:11.5,tickFormat:d=>d===0?"0":(d/1000).toFixed(3),label:null,fill:"#222"}),
  label("MACD (26d,12d)",3,"#1a1aff"),label("Signal (9)",16,"#ff1a1a"),
  frame()]);

// RSI
const rsDom=[-0.1,104.7], PYR=1.45;
pane(rsTop,rsH,rsDom,[vgrid(),
  Plot.ruleY([70,30],{stroke:"#99005c",strokeWidth:1.4}),
  Plot.ruleY([50],{stroke:"#99005c",strokeDasharray:"2 3"}),
  seq(rsi,{stroke:"#99185c",strokeWidth:1.1}),
  ellipse(111.5,31.4,1.65,20.9),
  ...arrow(110.1,23.8,116.3,15.7,PYR),...arrow(117.9,5.6,126.9,25.2,PYR),
  Plot.axisY([70,30],{anchor:"right",tickSize:0,tickPadding:3,fontSize:11.5,tickFormat:d=>d+"%",label:null,fill:"#222"}),
  label("RSI (14d)",4,"#99185c"),
  frame()]);

// Force index
const fiDom=[-3.66,2.09], PYF=191/5.75;
const forceRows=[[xLeft,leadIn.force],...idx.map(k=>[k,force[k]])];
pane(fiTop,fiH,fiDom,[vgrid(),
  Plot.areaY(forceRows,{x:d=>d[0],y1:0,y2:d=>Math.min(d[1],0),fill:"#009000"}),
  Plot.areaY(forceRows,{x:d=>d[0],y1:0,y2:d=>Math.max(d[1],0),fill:"#00008c"}),
  Plot.ruleY([0],{stroke:"#2222bb",strokeDasharray:"2 3"}),
  ...arrow(110.5,-3.58,116.3,-2.43,PYF),...arrow(117.5,-2.58,127.2,-0.72,PYF),
  Plot.axisY([0],{anchor:"right",tickSize:0,tickPadding:3,fontSize:11.5,tickFormat:()=>"0",label:null,fill:"#222"}),
  label("Force Index EMA (13d)",3,"#0000aa"),
  frame()]);

// date axis
const axisSvg=Plot.plot({width:1600,height:30,marginLeft:35.5,marginRight:37.5,marginTop:0,marginBottom:0,
  x:{domain:xDom,axis:null},style:{background:"transparent",overflow:"visible",fontFamily:FONT},
  marks:[
    Plot.ruleX(dayTicks,{x:d=>d[0]+0.1,insetBottom:15,stroke:"#666"}),
    Plot.ruleX(monthTicks,{x:d=>d[0]-(d[1]==="Mar'14"?-0.1:0.05),insetBottom:2,stroke:"#666"}),
    Plot.text(dayTicks,{x:d=>d[0]+0.1,text:d=>d[1],frameAnchor:"top",dy:3.5,dx:2.5,textAnchor:"start",fontSize:11.5,fill:"#222"}),
    Plot.text(monthTicks,{x:d=>d[0],text:d=>d[1],frameAnchor:"top",dy:16.5,dx:2.5,textAnchor:"start",fontSize:11.5,fill:"#222"})
  ]});
axisSvg.style.top=(fiTop+fiH)+"px"; root.appendChild(axisSvg);
</script></body></html>
